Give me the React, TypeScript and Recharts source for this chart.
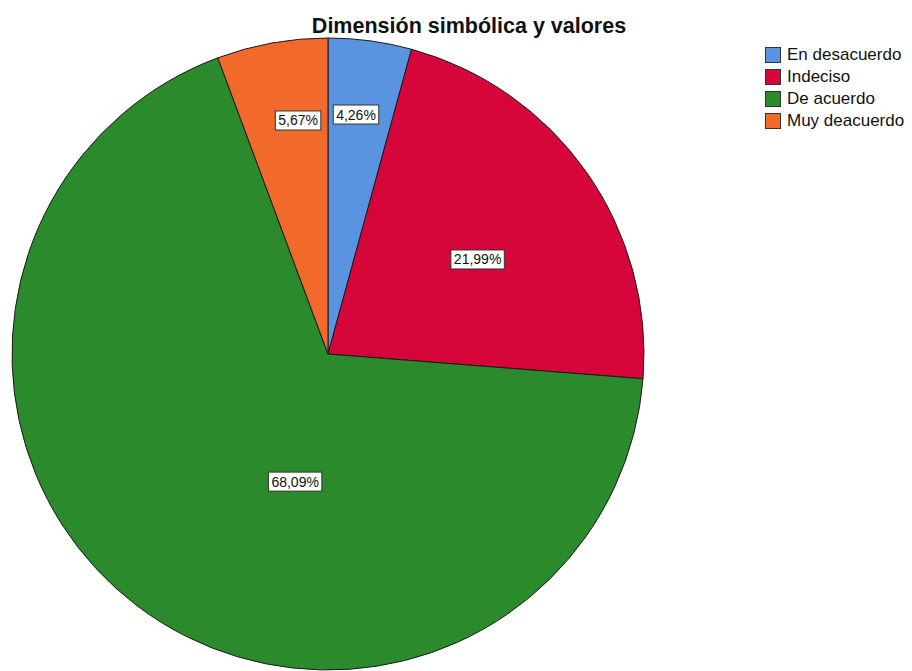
import React from "react";
import { PieChart, Pie, Cell, Legend } from "recharts";

const categories = ["En desacuerdo", "Indeciso", "De acuerdo", "Muy deacuerdo"];
const percentages = [4.26, 21.99, 68.09, 5.67];
const colors = ["#5a93df", "#d6063a", "#2b8a2b", "#f1692b"];
const title = "Dimensión simbólica y valores";

// label placement (radius fraction, angle offset clockwise in degrees)
const labelRadiusFraction = [0.763, 0.56, 0.417, 0.745];
const labelAngleOffset = [-1, 2.8, -22.6, 2.9];

const data = categories.map((name, i) => ({ name, value: percentages[i] }));

const FONT = "'Liberation Sans', Arial, sans-serif";
const RAD = Math.PI / 180;

const fmt = (v: number) => v.toFixed(2).replace(".", ",") + "%";

const renderLabel = (props: any) => {
  const { cx, cy, midAngle, outerRadius, index, value } = props;
  const r = outerRadius * labelRadiusFraction[index];
  const ang = midAngle - labelAngleOffset[index];
  const x = cx + Math.cos(-ang * RAD) * r;
  const y = cy + Math.sin(-ang * RAD) * r;
  const text = fmt(value);
  const w = text.length * 7.9 + 6;
  const h = 19;
  return (
    <g key={`lbl-${index}`}>
      <rect x={x - w / 2} y={y - h / 2} width={w} height={h} fill="#ffffff" stroke="#333333" strokeWidth={1} />
      <text x={x} y={y} dy={5} textAnchor="middle" fontFamily={FONT} fontSize={14} fill="#111111">
        {text}
      </text>
    </g>
  );
};

const renderLegend = () => {
  return (
    <div style={{ fontFamily: FONT }}>
      {categories.map((name, i) => (
        <div key={name} style={{ display: "flex", alignItems: "center", height: 22 }}>
          <span
            style={{
              display: "inline-block",
              boxSizing: "border-box",
              width: 16,
              height: 16,
              background: colors[i],
              border: "1px solid #333",
              marginRight: 6,
            }}
          />
          <span style={{ fontSize: 17, color: "#111", whiteSpace: "nowrap" }}>{name}</span>
        </div>
      ))}
    </div>
  );
};

export default function App() {
  return (
    <div style={{ position: "absolute", left: 0, top: 0, width: 912, height: 671, background: "#fff", overflow: "hidden" }}>
      <div
        style={{
          position: "absolute",
          left: 469,
          top: 14,
          transform: "translateX(-50%)",
          fontFamily: FONT,
          fontWeight: "bold",
          fontSize: 21.5,
          lineHeight: "24px",
          whiteSpace: "nowrap",
          color: "#111",
        }}
      >
        {title}
      </div>
      <PieChart width={912} height={671} margin={{ top: 0, right: 0, bottom: 0, left: 0 }}>
        <Pie
          data={data}
          dataKey="value"
          nameKey="name"
          cx={328}
          cy={354}
          outerRadius={316}
          startAngle={90}
          endAngle={-270}
          stroke="#1a1a1a"
          strokeWidth={1}
          label={renderLabel}
          labelLine={false}
          isAnimationActive={false}
        >
          {data.map((d, i) => (
            <Cell key={d.name} fill={colors[i]} />
          ))}
        </Pie>
        <Legend
          layout="vertical"
          align="right"
          verticalAlign="top"
          content={renderLegend}
          wrapperStyle={{ position: "absolute", left: 765, top: 44, width: 147 }}
        />
      </PieChart>
    </div>
  );
}
